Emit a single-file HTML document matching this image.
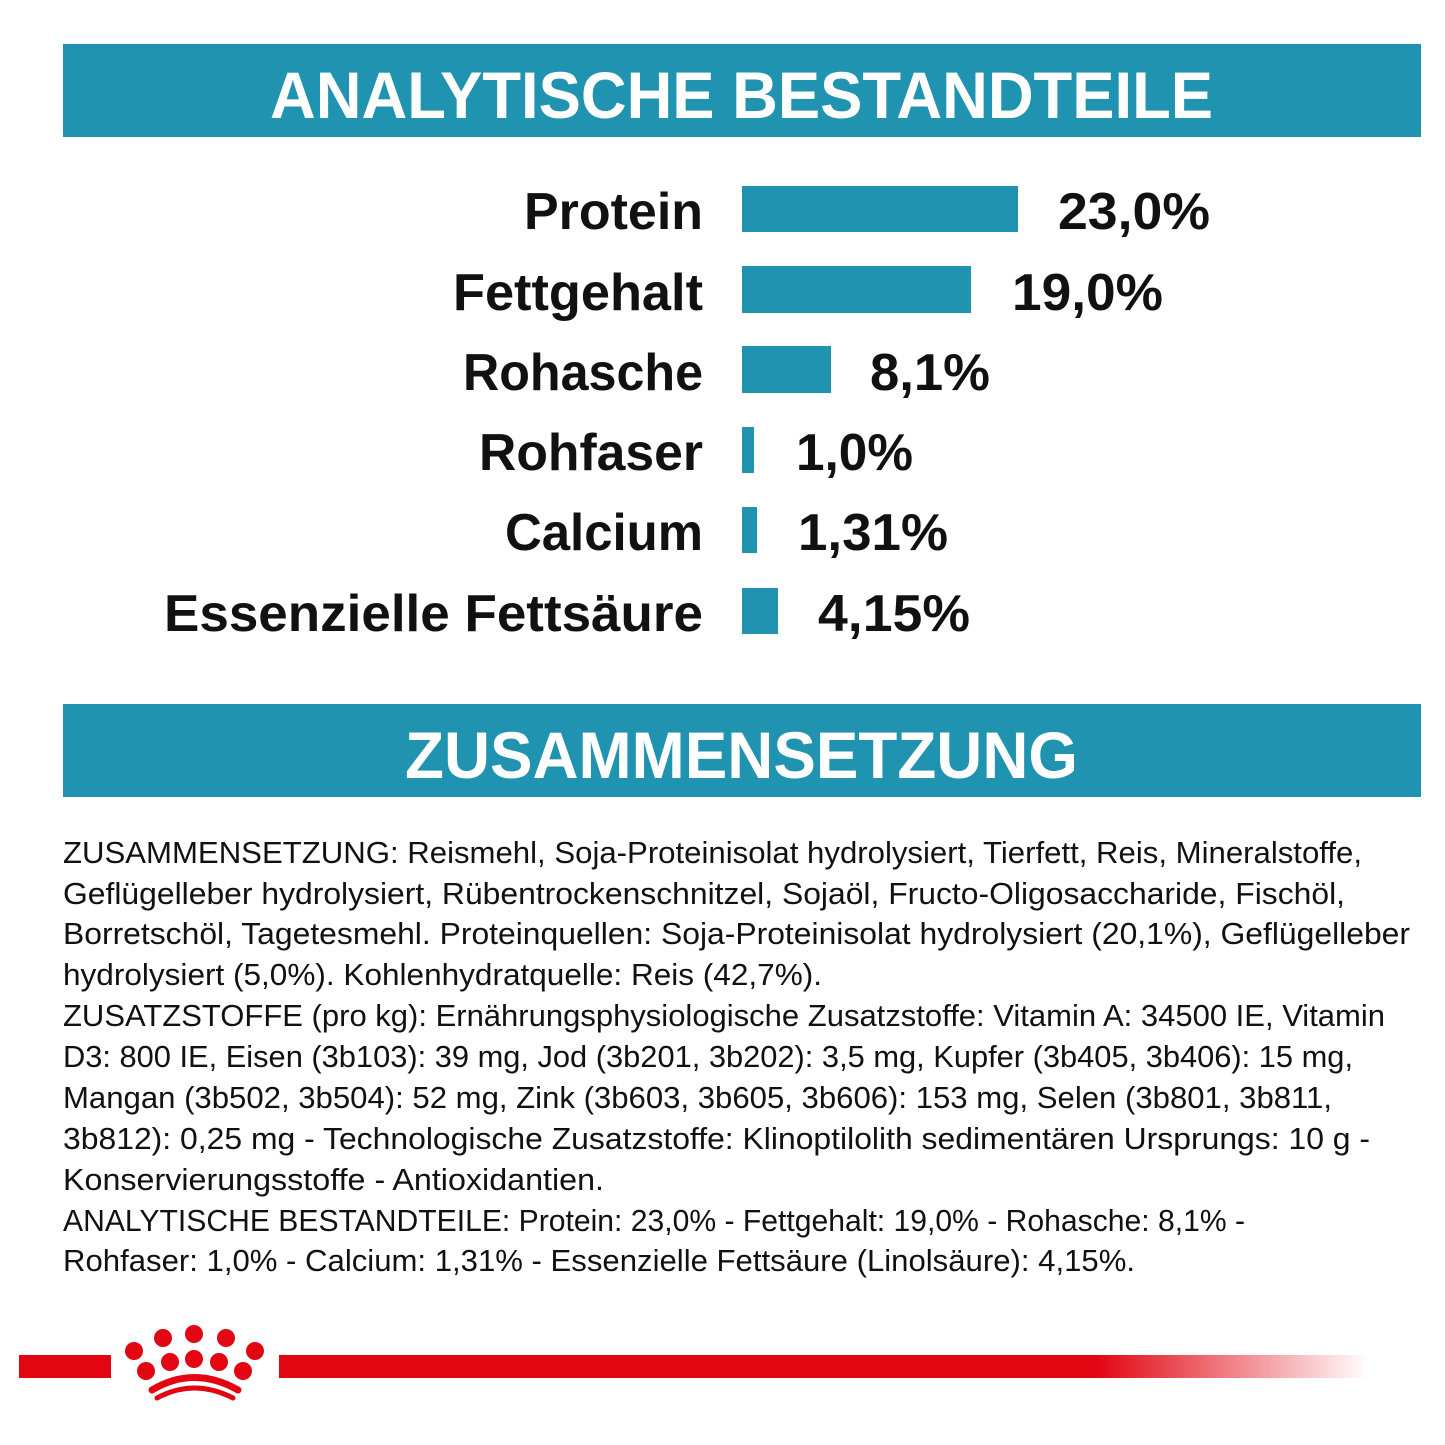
<!DOCTYPE html>
<html><head><meta charset="utf-8"><style>
html,body{margin:0;padding:0;background:#fff}
svg{display:block}
</style></head><body>
<svg width="1445" height="1445" viewBox="0 0 1445 1445" xmlns="http://www.w3.org/2000/svg" font-family="Liberation Sans, sans-serif">
<defs>
<linearGradient id="rg" x1="0" x2="1" y1="0" y2="0">
<stop offset="0" stop-color="#e20613"/><stop offset="0.75" stop-color="#e20613"/><stop offset="1" stop-color="#e20613" stop-opacity="0"/>
</linearGradient>
</defs>
<rect x="63" y="44" width="1358" height="93" fill="#1f93b0"/>
<text x="270" y="118" font-size="66" font-weight="bold" fill="#fff" textLength="943" lengthAdjust="spacingAndGlyphs">ANALYTISCHE BESTANDTEILE</text>
<rect x="63" y="704" width="1358" height="93" fill="#1f93b0"/>
<text x="405" y="778" font-size="66" font-weight="bold" fill="#fff" textLength="673" lengthAdjust="spacingAndGlyphs">ZUSAMMENSETZUNG</text>

<g fill="#1f93b0">
<rect x="742" y="186" width="276" height="46"/>
<rect x="742" y="266" width="229" height="47"/>
<rect x="742" y="346" width="89" height="47"/>
<rect x="742" y="427" width="12" height="46"/>
<rect x="742" y="507" width="15" height="46"/>
<rect x="742" y="588" width="36" height="46"/>
</g>
<g font-size="52" font-weight="bold" fill="#111">
<text x="524" y="229" textLength="179" lengthAdjust="spacingAndGlyphs">Protein</text>
<text x="453" y="310" textLength="250" lengthAdjust="spacingAndGlyphs">Fettgehalt</text>
<text x="463" y="390" textLength="240" lengthAdjust="spacingAndGlyphs">Rohasche</text>
<text x="479" y="470" textLength="224" lengthAdjust="spacingAndGlyphs">Rohfaser</text>
<text x="505" y="550" textLength="198" lengthAdjust="spacingAndGlyphs">Calcium</text>
<text x="164" y="631" textLength="539" lengthAdjust="spacingAndGlyphs">Essenzielle Fettsäure</text>
<text x="1058" y="229" textLength="152" lengthAdjust="spacingAndGlyphs">23,0%</text>
<text x="1012" y="310" textLength="151" lengthAdjust="spacingAndGlyphs">19,0%</text>
<text x="870" y="390" textLength="120" lengthAdjust="spacingAndGlyphs">8,1%</text>
<text x="796" y="470" textLength="117" lengthAdjust="spacingAndGlyphs">1,0%</text>
<text x="798" y="550" textLength="150" lengthAdjust="spacingAndGlyphs">1,31%</text>
<text x="818" y="631" textLength="152" lengthAdjust="spacingAndGlyphs">4,15%</text>
</g>

<g font-size="31" fill="#111" lengthAdjust="spacingAndGlyphs">
<text x="63" y="863" textLength="1299" lengthAdjust="spacingAndGlyphs">ZUSAMMENSETZUNG: Reismehl, Soja-Proteinisolat hydrolysiert, Tierfett, Reis, Mineralstoffe,</text>
<text x="63" y="904" textLength="1282" lengthAdjust="spacingAndGlyphs">Geflügelleber hydrolysiert, Rübentrockenschnitzel, Sojaöl, Fructo-Oligosaccharide, Fischöl,</text>
<text x="63" y="944" textLength="1347" lengthAdjust="spacingAndGlyphs">Borretschöl, Tagetesmehl. Proteinquellen: Soja-Proteinisolat hydrolysiert (20,1%), Geflügelleber</text>
<text x="63" y="985" textLength="759" lengthAdjust="spacingAndGlyphs">hydrolysiert (5,0%). Kohlenhydratquelle: Reis (42,7%).</text>
<text x="63" y="1026" textLength="1322" lengthAdjust="spacingAndGlyphs">ZUSATZSTOFFE (pro kg): Ernährungsphysiologische Zusatzstoffe: Vitamin A: 34500 IE, Vitamin</text>
<text x="63" y="1067" textLength="1290" lengthAdjust="spacingAndGlyphs">D3: 800 IE, Eisen (3b103): 39 mg, Jod (3b201, 3b202): 3,5 mg, Kupfer (3b405, 3b406): 15 mg,</text>
<text x="63" y="1108" textLength="1269" lengthAdjust="spacingAndGlyphs">Mangan (3b502, 3b504): 52 mg, Zink (3b603, 3b605, 3b606): 153 mg, Selen (3b801, 3b811,</text>
<text x="63" y="1149" textLength="1307" lengthAdjust="spacingAndGlyphs">3b812): 0,25 mg - Technologische Zusatzstoffe: Klinoptilolith sedimentären Ursprungs: 10 g -</text>
<text x="63" y="1190" textLength="541" lengthAdjust="spacingAndGlyphs">Konservierungsstoffe - Antioxidantien.</text>
<text x="63" y="1231" textLength="1182" lengthAdjust="spacingAndGlyphs">ANALYTISCHE BESTANDTEILE: Protein: 23,0% - Fettgehalt: 19,0% - Rohasche: 8,1% -</text>
<text x="63" y="1271" textLength="1072" lengthAdjust="spacingAndGlyphs">Rohfaser: 1,0% - Calcium: 1,31% - Essenzielle Fettsäure (Linolsäure): 4,15%.</text>
</g>

<rect x="19" y="1355" width="92" height="23" fill="#e20613"/>
<rect x="279" y="1355" width="1090" height="23" fill="url(#rg)"/>
<g fill="#e20613">
<circle cx="134" cy="1351" r="9"/>
<circle cx="163" cy="1338" r="9"/>
<circle cx="194" cy="1334" r="9"/>
<circle cx="226" cy="1338" r="9"/>
<circle cx="255" cy="1351" r="9"/>
<circle cx="146" cy="1371" r="9"/>
<circle cx="170" cy="1362" r="9"/>
<circle cx="194" cy="1359" r="9"/>
<circle cx="219" cy="1362" r="9"/>
<circle cx="243" cy="1371" r="9"/>
</g>
<path d="M152 1390 Q194 1365 238 1390" stroke="#e20613" stroke-width="7" fill="none" stroke-linecap="round"/>
<path d="M157 1398 Q194 1378 233 1398" stroke="#e20613" stroke-width="5" fill="none" stroke-linecap="round"/>
</svg>
</body></html>
